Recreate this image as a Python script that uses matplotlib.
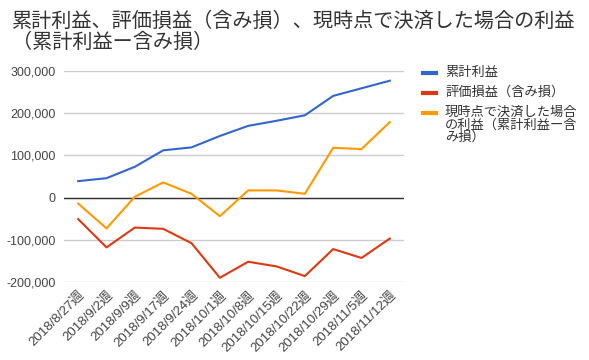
import matplotlib.pyplot as plt
from matplotlib.lines import Line2D
from matplotlib.ticker import FuncFormatter

weeks = ["2018/8/27週", "2018/9/2週", "2018/9/9週", "2018/9/17週", "2018/9/24週",
         "2018/10/1週", "2018/10/8週", "2018/10/15週", "2018/10/22週",
         "2018/10/29週", "2018/11/5週", "2018/11/12週"]
cumulative = [39000, 46000, 73000, 112000, 119000, 146000, 170000, 182000, 195000,
              241000, 259000, 277000]
unrealized = [-51000, -118000, -71000, -74000, -108000, -190000, -152000, -163000,
              -186000, -122000, -143000, -97000]
settled_now = [-14000, -73000, 2000, 36000, 9000, -44000, 17000, 17000, 9000,
               118000, 115000, 179000]

labels = ["累計利益", "評価損益（含み損）", "現時点で決済した場合\nの利益（累計利益ー含\nみ損）"]
colors = ["#3366cc", "#dc3912", "#ff9900"]
title = "累計利益、評価損益（含み損）、現時点で決済した場合の利益\n（累計利益ー含み損）"

plt.rcParams['font.family'] = ['Liberation Sans', 'Noto Sans CJK JP']
W, H = 589, 360
fig = plt.figure(figsize=(W / 100, H / 100), dpi=100)
ax = fig.add_axes([64 / W, (H - 282) / H, 340 / W, 211 / H])

x = range(len(weeks))
for vals, c in zip([cumulative, unrealized, settled_now], colors):
    ax.plot(x, vals, color=c, lw=1.5, solid_joinstyle='round', zorder=3)

ax.set_xlim(-0.5, len(weeks) - 0.5)
ax.set_ylim(-200000, 300000)
ax.set_yticks(range(-200000, 300001, 100000))
ax.yaxis.set_major_formatter(FuncFormatter(lambda v, p: f"{int(v):,}"))
ax.grid(axis='y', color='#cccccc', lw=1)
ax.axhline(0, color='#333333', lw=1, zorder=2)
for s in ax.spines.values():
    s.set_visible(False)
ax.tick_params(axis='y', length=0, pad=6, labelsize=9, labelcolor='#444444')
ax.tick_params(axis='x', length=0, pad=5)
ax.set_xticks(list(x))
ax.set_xticklabels(weeks, rotation=45, ha='right', va='top', rotation_mode='anchor',
                   fontsize=9.5, color='#444444')
ax.set_axisbelow(True)

fig.text(12 / W, 1 - 11 / H, title, ha='left', va='top', fontsize=14.5, color='#333333',
         family=['Noto Sans CJK JP', 'DejaVu Sans'], linespacing=1.0)

# legend
leg_y = [73, 93, 113]
for lab, c, yy in zip(labels, colors, leg_y):
    fig.add_artist(Line2D([423 / W, 436 / W], [1 - yy / H, 1 - yy / H], color=c, lw=3,
                          transform=fig.transFigure))
    fig.text(445 / W, 1 - (yy - 7) / H, lab, ha='left', va='top', fontsize=9.5,
             color='#333333', family=['Noto Sans CJK JP', 'DejaVu Sans'], linespacing=0.95)

fig.savefig("out.png", dpi=100)
